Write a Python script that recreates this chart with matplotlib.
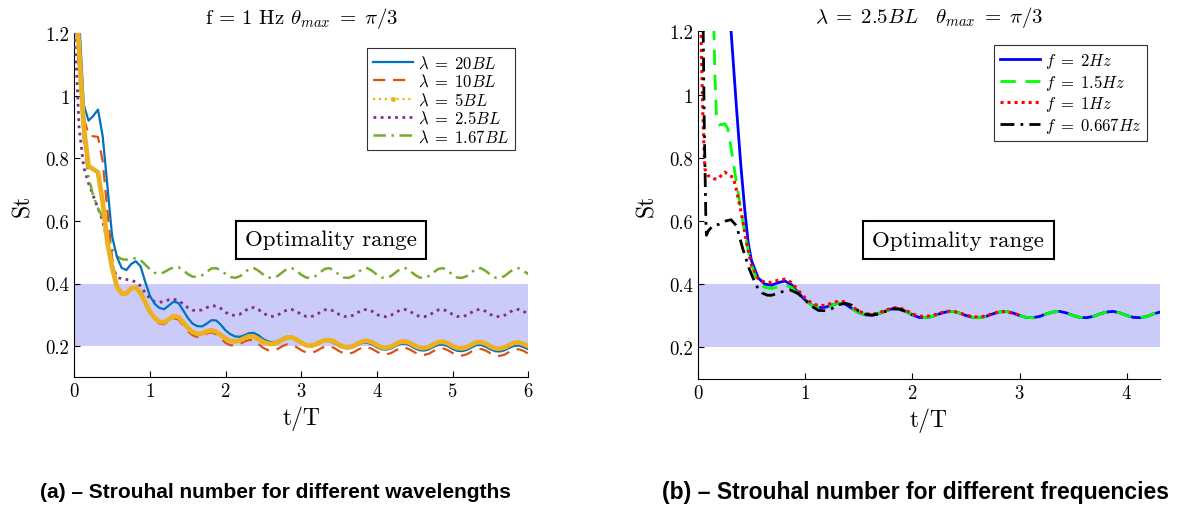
import numpy as np
import matplotlib
matplotlib.use("Agg")
import matplotlib.pyplot as plt
from matplotlib.lines import Line2D

plt.rcParams['font.family'] = 'serif'
plt.rcParams['font.serif'] = ['cmr10']
plt.rcParams['mathtext.fontset'] = 'cm'
plt.rcParams['axes.formatter.use_mathtext'] = True

# ---------------- data: panel (a) ----------------
t_a = [k / 16 for k in range(97)]  # t/T sampling grid 0..6

st_20BL = [1.45, 1.25, 0.97, 0.92, 0.935, 0.955, 0.87, 0.71, 0.55, 0.485,
           0.45, 0.443, 0.462, 0.471, 0.455, 0.405, 0.36, 0.335, 0.322, 0.318,
           0.33, 0.342, 0.338, 0.315, 0.29, 0.272, 0.264, 0.263, 0.272, 0.283,
           0.282, 0.268, 0.25, 0.238, 0.231, 0.23, 0.235, 0.242, 0.242, 0.234,
           0.222, 0.215, 0.212, 0.216, 0.225, 0.231, 0.23, 0.222, 0.21, 0.203,
           0.201, 0.205, 0.213, 0.218, 0.216, 0.209, 0.2, 0.194, 0.193, 0.197,
           0.205, 0.211, 0.211, 0.205, 0.196, 0.19, 0.189, 0.193, 0.201, 0.207,
           0.208, 0.202, 0.193, 0.187, 0.186, 0.19, 0.198, 0.204, 0.205, 0.2,
           0.191, 0.185, 0.184, 0.188, 0.196, 0.203, 0.204, 0.198, 0.19, 0.184,
           0.183, 0.187, 0.195, 0.201, 0.202, 0.197, 0.19]

st_10BL = [1.4, 1.18, 0.93, 0.875, 0.87, 0.868, 0.79, 0.63, 0.48, 0.395,
           0.37, 0.372, 0.386, 0.385, 0.365, 0.335, 0.305, 0.285, 0.272, 0.27,
           0.28, 0.289, 0.285, 0.268, 0.248, 0.235, 0.229, 0.231, 0.24, 0.244,
           0.238, 0.224, 0.21, 0.203, 0.202, 0.207, 0.215, 0.22, 0.217, 0.206,
           0.194, 0.187, 0.186, 0.191, 0.2, 0.206, 0.205, 0.197, 0.187, 0.18,
           0.179, 0.183, 0.192, 0.199, 0.2, 0.194, 0.184, 0.177, 0.176, 0.18,
           0.189, 0.196, 0.197, 0.191, 0.182, 0.175, 0.174, 0.178, 0.187, 0.194,
           0.195, 0.189, 0.18, 0.173, 0.172, 0.176, 0.185, 0.192, 0.193, 0.187,
           0.178, 0.171, 0.17, 0.174, 0.183, 0.19, 0.191, 0.186, 0.177, 0.17,
           0.169, 0.173, 0.182, 0.189, 0.19, 0.185, 0.176]

st_5BL = [1.4, 1.15, 0.9, 0.775, 0.765, 0.755, 0.66, 0.53, 0.45, 0.39,
          0.368, 0.368, 0.384, 0.387, 0.37, 0.34, 0.31, 0.29, 0.278, 0.276,
          0.286, 0.296, 0.293, 0.277, 0.258, 0.245, 0.239, 0.24, 0.247, 0.251,
          0.246, 0.235, 0.224, 0.217, 0.215, 0.218, 0.226, 0.232, 0.23, 0.222,
          0.213, 0.208, 0.207, 0.212, 0.221, 0.228, 0.228, 0.221, 0.211, 0.203,
          0.201, 0.205, 0.213, 0.219, 0.219, 0.214, 0.205, 0.198, 0.197, 0.201,
          0.209, 0.216, 0.217, 0.212, 0.203, 0.196, 0.195, 0.199, 0.207, 0.214,
          0.215, 0.21, 0.201, 0.195, 0.194, 0.198, 0.206, 0.213, 0.214, 0.209,
          0.2, 0.194, 0.193, 0.197, 0.205, 0.212, 0.213, 0.208, 0.199, 0.193,
          0.192, 0.196, 0.204, 0.211, 0.212, 0.207, 0.2]

st_2_5BL = [1.25, 0.9, 0.77, 0.72, 0.68, 0.64, 0.6, 0.53, 0.46, 0.42,
            0.415, 0.413, 0.41, 0.405, 0.392, 0.37, 0.352, 0.342, 0.34, 0.343,
            0.348, 0.35, 0.346, 0.335, 0.323, 0.315, 0.313, 0.316, 0.323, 0.329,
            0.328, 0.32, 0.308, 0.3, 0.298, 0.302, 0.312, 0.322, 0.323, 0.316,
            0.305, 0.297, 0.295, 0.299, 0.308, 0.316, 0.317, 0.311, 0.301, 0.295,
            0.294, 0.299, 0.308, 0.316, 0.317, 0.311, 0.301, 0.295, 0.294, 0.299,
            0.308, 0.316, 0.317, 0.311, 0.301, 0.295, 0.294, 0.299, 0.308, 0.316,
            0.317, 0.311, 0.301, 0.295, 0.294, 0.299, 0.308, 0.316, 0.317, 0.311,
            0.301, 0.295, 0.294, 0.299, 0.308, 0.316, 0.317, 0.311, 0.301, 0.295,
            0.294, 0.299, 0.308, 0.316, 0.317, 0.311, 0.302]

st_1_67BL = [1.3, 1.08, 0.86, 0.74, 0.68, 0.64, 0.61, 0.56, 0.51, 0.487,
             0.478, 0.476, 0.479, 0.481, 0.475, 0.46, 0.445, 0.434, 0.431, 0.436,
             0.445, 0.452, 0.452, 0.443, 0.43, 0.422, 0.421, 0.426, 0.437, 0.448,
             0.449, 0.442, 0.43, 0.421, 0.418, 0.423, 0.435, 0.447, 0.449, 0.44,
             0.428, 0.419, 0.418, 0.424, 0.436, 0.447, 0.449, 0.44, 0.428, 0.419,
             0.418, 0.424, 0.436, 0.447, 0.449, 0.44, 0.428, 0.419, 0.418, 0.424,
             0.436, 0.447, 0.449, 0.44, 0.428, 0.419, 0.418, 0.424, 0.436, 0.447,
             0.449, 0.44, 0.428, 0.419, 0.418, 0.424, 0.436, 0.447, 0.449, 0.44,
             0.428, 0.419, 0.418, 0.424, 0.436, 0.447, 0.449, 0.44, 0.428, 0.419,
             0.418, 0.424, 0.436, 0.447, 0.449, 0.44, 0.43]

labels_a = [r'$\lambda\;=\;20BL$', r'$\lambda\;=\;10BL$', r'$\lambda\;=\;5BL$',
            r'$\lambda\;=\;2.5BL$', r'$\lambda\;=\;1.67BL$']

# ---------------- data: panel (b) ----------------
t_2Hz = [0.29, 0.31, 0.36, 0.40, 0.4375, 0.47, 0.5, 0.5625, 0.625, 0.6875,
         0.75, 0.8125, 0.875, 0.9375, 1.0, 1.0625, 1.125, 1.1875, 1.25, 1.3125,
         1.375, 1.4375, 1.5, 1.5625, 1.625, 1.6875, 1.75, 1.8125, 1.875, 1.9375,
         2.0, 2.0625, 2.125, 2.1875, 2.25, 2.3125, 2.375, 2.4375, 2.5, 2.5625,
         2.625, 2.6875, 2.75, 2.8125, 2.875, 2.9375, 3.0, 3.0625, 3.125, 3.1875,
         3.25, 3.3125, 3.375, 3.4375, 3.5, 3.5625, 3.625, 3.6875, 3.75, 3.8125,
         3.875, 3.9375, 4.0, 4.0625, 4.125, 4.1875, 4.25, 4.3125]
st_2Hz = [1.3, 1.2, 0.96, 0.78, 0.635, 0.53, 0.475, 0.42, 0.4, 0.397,
          0.405, 0.41, 0.398, 0.372, 0.35, 0.334, 0.326, 0.327, 0.334, 0.34,
          0.337, 0.323, 0.31, 0.303, 0.302, 0.307, 0.315, 0.322, 0.321, 0.314,
          0.303, 0.295, 0.294, 0.298, 0.306, 0.312, 0.314, 0.309, 0.301, 0.295,
          0.294, 0.298, 0.306, 0.312, 0.314, 0.309, 0.301, 0.295, 0.294, 0.298,
          0.306, 0.312, 0.314, 0.309, 0.301, 0.295, 0.294, 0.298, 0.306, 0.312,
          0.314, 0.309, 0.301, 0.295, 0.294, 0.298, 0.306, 0.312]

t_1_5Hz = [0.14, 0.15, 0.16, 0.175, 0.2, 0.23, 0.25, 0.28, 0.31, 0.34,
           0.39, 0.4375, 0.5, 0.5625, 0.625, 0.6875, 0.75, 0.8125, 0.875, 0.9375,
           1.0, 1.0625, 1.125, 1.1875, 1.25, 1.3125, 1.375, 1.4375, 1.5, 1.5625,
           1.625, 1.6875, 1.75, 1.8125, 1.875, 1.9375, 2.0, 2.0625, 2.125, 2.1875,
           2.25, 2.3125, 2.375, 2.4375, 2.5, 2.5625, 2.625, 2.6875, 2.75, 2.8125,
           2.875, 2.9375, 3.0, 3.0625, 3.125, 3.1875, 3.25, 3.3125, 3.375, 3.4375,
           3.5, 3.5625, 3.625, 3.6875, 3.75, 3.8125, 3.875, 3.9375, 4.0, 4.0625,
           4.125, 4.1875, 4.25, 4.3125]
st_1_5Hz = [1.3, 1.2, 1.05, 0.92, 0.905, 0.905, 0.908, 0.892, 0.83, 0.765,
            0.66, 0.56, 0.46, 0.405, 0.39, 0.386, 0.392, 0.397, 0.39, 0.368,
            0.348, 0.333, 0.326, 0.327, 0.334, 0.34, 0.337, 0.323, 0.31, 0.303,
            0.302, 0.307, 0.315, 0.322, 0.321, 0.314, 0.303, 0.295, 0.294, 0.298,
            0.306, 0.312, 0.314, 0.309, 0.301, 0.295, 0.294, 0.298, 0.306, 0.312,
            0.314, 0.309, 0.301, 0.295, 0.294, 0.298, 0.306, 0.312, 0.314, 0.309,
            0.301, 0.295, 0.294, 0.298, 0.306, 0.312, 0.314, 0.309, 0.301, 0.295,
            0.294, 0.298, 0.306, 0.312]

t_1Hz = [0.02, 0.03, 0.045, 0.065, 0.093, 0.156, 0.187, 0.25, 0.296, 0.33,
         0.358, 0.39, 0.42, 0.46, 0.5, 0.5625, 0.625, 0.6875, 0.75, 0.8125,
         0.875, 0.9375, 1.0, 1.0625, 1.125, 1.1875, 1.25, 1.3125, 1.375, 1.4375,
         1.5, 1.5625, 1.625, 1.6875, 1.75, 1.8125, 1.875, 1.9375, 2.0, 2.0625,
         2.125, 2.1875, 2.25, 2.3125, 2.375, 2.4375, 2.5, 2.5625, 2.625, 2.6875,
         2.75, 2.8125, 2.875, 2.9375, 3.0]
st_1Hz = [1.3, 1.2, 0.95, 0.765, 0.744, 0.733, 0.733, 0.755, 0.744, 0.738,
          0.702, 0.649, 0.6, 0.52, 0.46, 0.418, 0.406, 0.406, 0.413, 0.416,
          0.405, 0.38, 0.357, 0.34, 0.332, 0.333, 0.34, 0.347, 0.344, 0.33,
          0.315, 0.307, 0.305, 0.309, 0.318, 0.325, 0.326, 0.318, 0.306, 0.299,
          0.298, 0.301, 0.308, 0.314, 0.315, 0.31, 0.302, 0.297, 0.296, 0.3,
          0.307, 0.313, 0.313, 0.308, 0.302]

t_0_667Hz = [0.045, 0.05, 0.06, 0.07, 0.075, 0.08, 0.1, 0.14, 0.2, 0.26,
             0.31, 0.36, 0.42, 0.48, 0.545, 0.6, 0.65, 0.6875, 0.75, 0.8125,
             0.86, 0.9375, 1.0, 1.0625, 1.125, 1.1875, 1.25, 1.3125, 1.375, 1.4375,
             1.5, 1.5625, 1.625, 1.6875, 1.75, 1.8125, 1.875, 1.9375, 2.0]
st_0_667Hz = [1.3, 1.2, 0.9, 0.7, 0.6, 0.555, 0.57, 0.585, 0.59, 0.6,
              0.604, 0.585, 0.511, 0.448, 0.395, 0.372, 0.365, 0.365, 0.372, 0.379,
              0.382, 0.37, 0.35, 0.33, 0.317, 0.316, 0.323, 0.335, 0.34, 0.333,
              0.315, 0.305, 0.302, 0.306, 0.314, 0.322, 0.322, 0.314, 0.303]

labels_b = [r'$f\;=\;2Hz$', r'$f\;=\;1.5Hz$', r'$f\;=\;1Hz$', r'$f\;=\;0.667Hz$']

opt_range = (0.2, 0.4)
yticks = [0.2, 0.4, 0.6, 0.8, 1.0, 1.2]
yticklabels = ['0.2', '0.4', '0.6', '0.8', '1', '1.2']
xticks_a = [0, 1, 2, 3, 4, 5, 6]
xticks_b = [0, 1, 2, 3, 4]

# ---------------- figure ----------------
fig = plt.figure(figsize=(11.78, 5.06), dpi=100)
axA = fig.add_axes([0.0631, 0.252, 0.3854, 0.681])
axB = fig.add_axes([0.5924, 0.249, 0.3923, 0.687])

band = '#cbcbf9'
c_blue, c_red, c_yel, c_pur, c_grn = '#0072BD', '#D95319', '#EDB120', '#7E2F8E', '#77AC30'

for ax, xmax in ((axA, 6.0), (axB, 4.31)):
    ax.axhspan(opt_range[0], opt_range[1], color=band, lw=0, zorder=0)
    ax.set_xlim(0, xmax)
    ax.set_ylim(0.1, 1.2)
    for s in ('top', 'right'):
        ax.spines[s].set_visible(False)
    ax.tick_params(direction='in', length=4, width=0.8, labelsize=13.5)
    ax.set_yticks(yticks)
    ax.set_yticklabels(yticklabels)
    ax.set_xlabel('t/T', fontsize=17, labelpad=4)
    ax.set_ylabel('St', fontsize=17, labelpad=8)

leg_kw = dict(loc='upper right', fontsize=12, handlelength=2.4, handletextpad=0.3,
              labelspacing=0.12, borderpad=0.35, fancybox=False, framealpha=1,
              edgecolor='#333333')

# panel (a)
axA.plot(t_a, st_20BL, color=c_blue, lw=1.6, zorder=5)
axA.plot(t_a, st_10BL, color=c_red, lw=1.6, dashes=(5.5, 3.5), zorder=4)
axA.plot(t_a, st_5BL, color=c_yel, lw=3.4, solid_capstyle='round', zorder=6)
axA.plot(t_a, st_2_5BL, color=c_pur, lw=2.0, ls=(0, (1, 1.6)), zorder=3)
axA.plot(t_a, st_1_67BL, color=c_grn, lw=1.8, ls=(0, (5, 2.2, 1, 2.2)), zorder=3)
axA.set_xticks(xticks_a)
handles_a = [
    Line2D([], [], color=c_blue, lw=1.6),
    Line2D([], [], color=c_red, lw=1.6, dashes=(5.5, 3.5)),
    Line2D([], [], color=c_yel, lw=1.6, ls=':', marker='.', markersize=5),
    Line2D([], [], color=c_pur, lw=2.0, ls=(0, (1, 1.6))),
    Line2D([], [], color=c_grn, lw=1.8, ls=(0, (5, 2.2, 1, 2.2))),
]
legA = axA.legend(handles_a, labels_a, bbox_to_anchor=(0.99, 0.98), **leg_kw)
legA.get_frame().set_linewidth(0.8)
axA.set_title(r'f = 1 Hz $\theta_{max}\;=\;\pi/3$', fontsize=15, pad=7)
axA.text(3.39, 0.54, 'Optimality range', fontsize=16.5, ha='center', va='center',
         bbox=dict(boxstyle='square,pad=0.4', fc='white', ec='black', lw=1.5), zorder=10)

# panel (b)
axB.plot(t_2Hz, st_2Hz, color='#0000FF', lw=2.0, zorder=3)
axB.plot(t_1_5Hz, st_1_5Hz, color='#00FF00', lw=2.0, dashes=(5.5, 3.5), zorder=4)
axB.plot(t_1Hz, st_1Hz, color='#FF0000', lw=2.2, ls=(0, (1, 1.3)), zorder=5)
axB.plot(t_0_667Hz, st_0_667Hz, color='black', lw=2.0, ls=(0, (5, 2.2, 1, 2.2)), zorder=6)
axB.set_xticks(xticks_b)
handles_b = [
    Line2D([], [], color='#0000FF', lw=2.0),
    Line2D([], [], color='#00FF00', lw=2.0, dashes=(5.5, 3.5)),
    Line2D([], [], color='#FF0000', lw=2.2, ls=(0, (1, 1.3))),
    Line2D([], [], color='black', lw=2.0, ls=(0, (5, 2.2, 1, 2.2))),
]
legB = axB.legend(handles_b, labels_b, bbox_to_anchor=(0.99, 0.985), **leg_kw)
legB.get_frame().set_linewidth(0.8)
axB.set_title(r'$\lambda\;=\;2.5BL \quad \theta_{max}\;=\;\pi/3$', fontsize=15, pad=7)
axB.text(2.43, 0.54, 'Optimality range', fontsize=16.5, ha='center', va='center',
         bbox=dict(boxstyle='square,pad=0.4', fc='white', ec='black', lw=1.5), zorder=10)

# captions
fig.text(0.234, 0.026, '(a) – Strouhal number for different wavelengths',
         family='Liberation Sans', weight='bold', fontsize=15, ha='center', va='center')
fig.text(0.7775, 0.026, '(b) – Strouhal number for different frequencies',
         family='Liberation Sans', weight='bold', fontsize=16.5, ha='center', va='center')

fig.savefig('out.png', dpi=100)
